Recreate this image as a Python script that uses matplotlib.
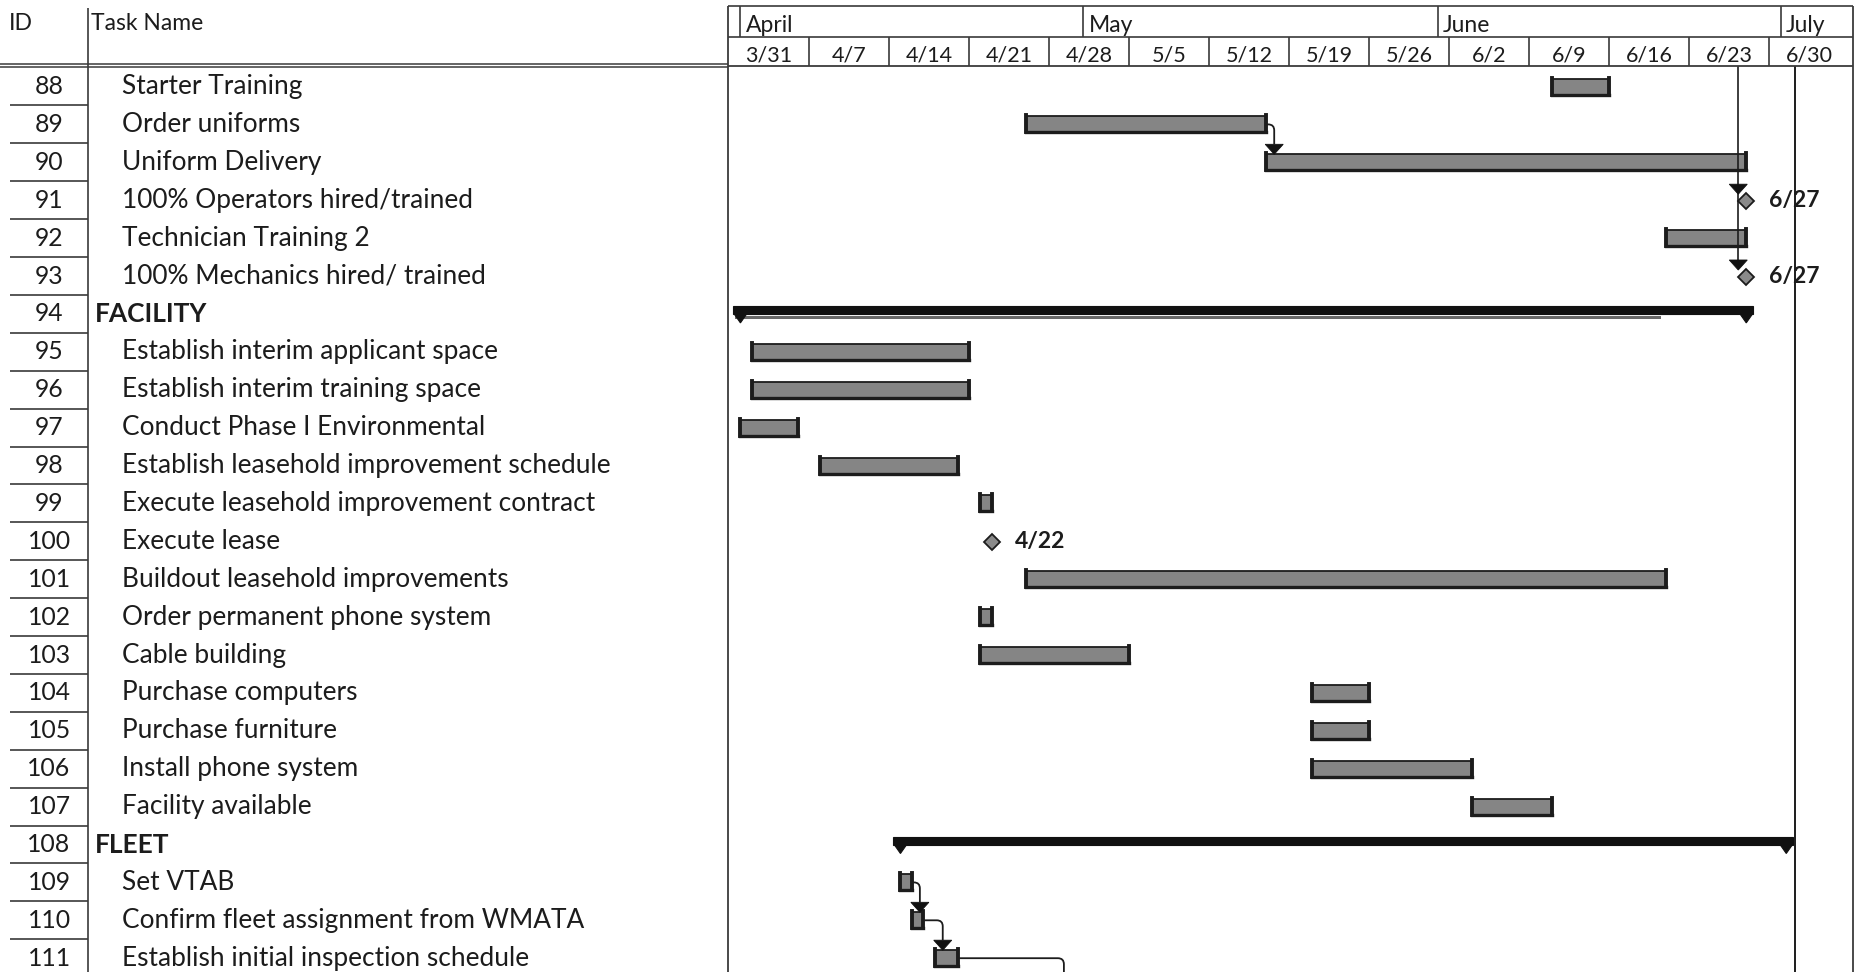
import matplotlib
matplotlib.use("Agg")
import matplotlib.pyplot as plt
from matplotlib.patches import Rectangle, Polygon, PathPatch
from matplotlib.path import Path

plt.rcParams["font.family"] = ["Lato", "DejaVu Sans"]

task_ids = list(range(88, 112))
task_names = [
    "Starter Training",
    "Order uniforms",
    "Uniform Delivery",
    "100% Operators hired/trained",
    "Technician Training 2",
    "100% Mechanics hired/ trained",
    "FACILITY",
    "Establish interim applicant space",
    "Establish interim training space",
    "Conduct Phase I Environmental",
    "Establish leasehold improvement schedule",
    "Execute leasehold improvement contract",
    "Execute lease",
    "Buildout leasehold improvements",
    "Order permanent phone system",
    "Cable building",
    "Purchase computers",
    "Purchase furniture",
    "Install phone system",
    "Facility available",
    "FLEET",
    "Set VTAB",
    "Confirm fleet assignment from WMATA",
    "Establish initial inspection schedule",
]
# t = task, m = milestone, s = summary
task_kind = ["t", "t", "t", "m", "t", "m", "s", "t", "t", "t", "t", "t",
             "m", "t", "t", "t", "t", "t", "t", "t", "s", "t", "t", "t"]
# days counted from Sunday 3/31
start_day = [72, 26, 47, 89, 82, 89, 1, 2, 2, 1, 8, 22,
             23, 26, 22, 22, 51, 51, 51, 65, 15, 15, 16, 18]
end_day = [77, 47, 89, 89, 89, 89, 89, 21, 21, 6, 20, 23,
           23, 82, 23, 35, 56, 56, 65, 72, 92.5, 16, 17, 20]
milestone_labels = {91: "6/27", 93: "6/27", 100: "4/22"}
facility_done_day = 82

week_labels = ["3/31", "4/7", "4/14", "4/21", "4/28", "5/5", "5/12",
               "5/19", "5/26", "6/2", "6/9", "6/16", "6/23", "6/30"]
month_labels = ["April", "May", "June", "July"]
month_first_day = [1, 31, 62, 92]

links = [(89, 90), (109, 110), (110, 111)]
chain_targets = [91, 93]          # link line coming down from the page above
offpage_from, offpage_day = 111, 29.3
status_day = 93.3

# layout in pixels
W, H = 1860, 972
HEAD = 66
ID_R = 88
G_L, G_R = 728, 1853
DAY_PX = 11.43
X0 = (G_L - 729) / DAY_PX
X1 = X0 + (G_R - G_L) / DAY_PX
n = len(task_ids)
ROW_PX = 37.9
ROW0 = 86.5                       # centre of first row
Y_TOP = -(ROW0 - HEAD) / ROW_PX
Y_BOT = (H - ROW0) / ROW_PX
INK = "#1c1c1c"
LINE = "#3a3a3a"
FS = 18.9

fig = plt.figure(figsize=(W / 100, H / 100), dpi=100)


def px_axes(x0, y0, x1, y1):
    ax = fig.add_axes([x0 / W, 1 - y1 / H, (x1 - x0) / W, (y1 - y0) / H])
    ax.axis("off")
    return ax


# ---- left table
tbl = px_axes(0, HEAD, G_L, H)
tbl.set_xlim(0, G_L)
tbl.set_ylim(Y_BOT, Y_TOP)
for i, (tid, name, kind) in enumerate(zip(task_ids, task_names, task_kind)):
    tbl.text(49, i, str(tid), ha="center", va="center", fontsize=17.8, color=INK)
    if kind == "s":
        tbl.text(95, i, name, ha="left", va="center", fontsize=FS, fontweight="bold", color=INK)
    else:
        tbl.text(122, i, name, ha="left", va="center", fontsize=FS, color=INK)
tbl.hlines([i + 0.5 for i in range(n)], 10, ID_R, color=LINE, lw=1.2)

# ---- timescale header
hdr = px_axes(G_L, 0, G_R, HEAD)
hdr.set_xlim(X0, X1)
hdr.set_ylim(HEAD, 0)
hdr.hlines([6, 37], X0, X1, color=LINE, lw=1.2)
hdr.vlines(month_first_day, 6, 37, color=LINE, lw=1.2)
hdr.vlines(range(7, 98, 7), 37, HEAD, color=LINE, lw=1.2)
for d, name in zip(month_first_day, month_labels):
    hdr.text(d + 0.45, 25, name, ha="left", va="center", fontsize=16.5, color=INK)
for k, lab in enumerate(week_labels):
    hdr.text(7 * k + 3.5, 55, lab, ha="center", va="center", fontsize=15.5, color=INK)

# ---- gantt
g = px_axes(G_L, HEAD, G_R, H)
g.set_xlim(X0, X1)
g.set_ylim(Y_BOT, Y_TOP)

dx = 1 / DAY_PX
dy = 1 / ROW_PX
BAR_H = 16 * dy


def task_bar(r, s, e):
    g.add_patch(Rectangle((s, r - BAR_H / 2), e - s, BAR_H, facecolor="#858585",
                          edgecolor=INK, lw=1.3, zorder=3))
    g.plot([s, e], [r + BAR_H / 2, r + BAR_H / 2], color=INK, lw=2.4, zorder=4)
    for x in (s, e):
        g.plot([x, x], [r - BAR_H / 2 - 1 * dy, r + BAR_H / 2], color=INK, lw=2.8, zorder=4)


def summary_bar(r, s, e):
    half = 7 * dx
    g.add_patch(Rectangle((s - half, r - 8 * dy), e - s + 2 * half, 8 * dy,
                          facecolor="#111111", edgecolor="#111111", lw=0.8, zorder=3))
    for x in (s, e):
        g.add_patch(Polygon([(x - half, r - 1 * dy), (x + half, r - 1 * dy), (x, r + 9 * dy)],
                            closed=True, facecolor="#111111", edgecolor="#111111", lw=0.8, zorder=3))


def arrow_head(x, tip):
    g.add_patch(Polygon([(x - 9 * dx, tip - 10 * dy), (x + 9 * dx, tip - 10 * dy), (x, tip)],
                        closed=True, facecolor="#111111", edgecolor="#111111", lw=0.6, zorder=5))


row_of = {tid: i for i, tid in enumerate(task_ids)}

for i, kind in enumerate(task_kind):
    s, e = start_day[i], end_day[i]
    if kind == "t":
        task_bar(i, s, e)
    elif kind == "s":
        summary_bar(i, s, e)
    else:
        g.plot(e, i + 1 * dy, marker="D", ms=8.5, mfc="#8a8a8a", mec=INK, mew=1.3, zorder=5)
        g.text(e + 23 * dx, i, milestone_labels[task_ids[i]], ha="left", va="center",
               fontsize=16.5, fontweight="bold", color=INK, zorder=6)

# progress stripe under FACILITY summary
rf = row_of[94]
g.add_patch(Rectangle((start_day[rf] - 5 * dx, rf + 2 * dy), facility_done_day - start_day[rf],
                      3.5 * dy, facecolor="#6a6a6a", edgecolor="none", zorder=2))

# link line from page above into the 6/27 milestones
chain_x = end_day[row_of[chain_targets[0]]] - 8 * dx
last_tip = row_of[chain_targets[-1]] - 6 * dy
g.plot([chain_x, chain_x], [Y_TOP, last_tip - 10 * dy], color=INK, lw=1.2, zorder=4)
for tid in chain_targets:
    arrow_head(chain_x, row_of[tid] - 6 * dy)

# finish-to-start links
rad_x, rad_y = 6 * dx, 6 * dy


def elbow(x0, y0, xa, y_end):
    verts = [(x0, y0), (xa - rad_x, y0), (xa, y0), (xa, y0 + rad_y), (xa, y_end)]
    codes = [Path.MOVETO, Path.LINETO, Path.CURVE3, Path.CURVE3, Path.LINETO]
    g.add_patch(PathPatch(Path(verts, codes), facecolor="none", edgecolor=INK, lw=1.3, zorder=4))


for a, b in links:
    ra, rb = row_of[a], row_of[b]
    xa = start_day[rb] + 8 * dx
    tip = rb - BAR_H / 2
    elbow(end_day[ra], ra, xa, tip - 10 * dy)
    arrow_head(xa, tip)

ro = row_of[offpage_from]
elbow(end_day[ro], ro, offpage_day, Y_BOT)

g.vlines(status_day, Y_TOP, Y_BOT, color=INK, lw=1.4, zorder=4)

# ---- frame lines
ov = px_axes(0, 0, W, H)
ov.set_xlim(0, W)
ov.set_ylim(H, 0)
ov.vlines(ID_R, 8, H, color=LINE, lw=1.2)
ov.vlines([G_L, G_R], 6, H, color=LINE, lw=1.3)
ov.hlines([64, 67.5], 0, G_L, color=LINE, lw=1.1)
ov.hlines(HEAD, G_L, G_R, color=LINE, lw=1.3)
ov.text(9, 23, "ID", ha="left", va="center", fontsize=16.5, color=INK)
ov.text(91, 23, "Task Name", ha="left", va="center", fontsize=16.5, color=INK)

fig.savefig("out.png", dpi=100)
